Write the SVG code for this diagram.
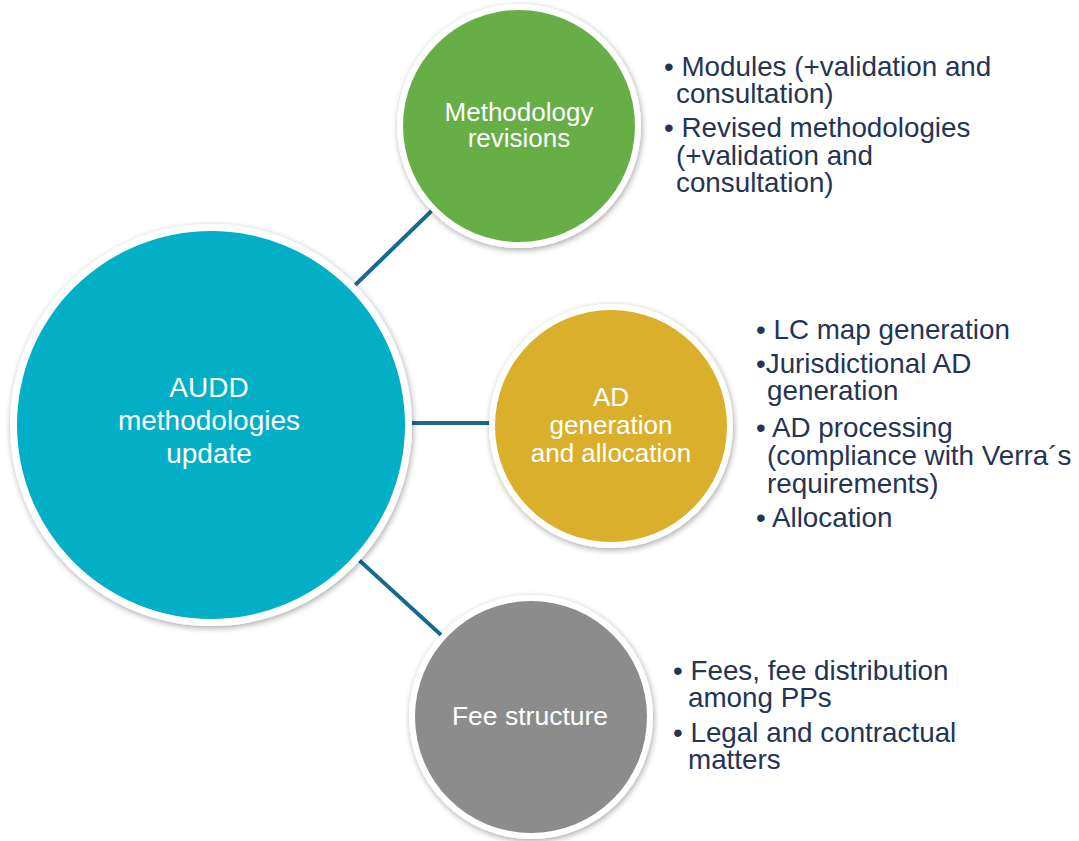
<svg xmlns="http://www.w3.org/2000/svg" width="1079" height="841" viewBox="0 0 1079 841">
<defs>
<filter id="sh" x="-20%" y="-20%" width="140%" height="140%">
<feGaussianBlur in="SourceAlpha" stdDeviation="3"/>
<feOffset dx="1" dy="2" result="b"/>
<feComponentTransfer><feFuncA type="linear" slope="0.35"/></feComponentTransfer>
<feMerge><feMergeNode/><feMergeNode in="SourceGraphic"/></feMerge>
</filter>
<style>
.ring{fill:#ffffff;filter:url(#sh)}
.lbl{font-family:"Liberation Sans",Arial,sans-serif;fill:#ffffff;text-anchor:middle}
.bt{font-family:"Liberation Sans",Arial,sans-serif;fill:#253453;font-size:27.8px}
.con{stroke:#17698F;stroke-width:4;fill:none}
</style>
</defs>
<rect width="1079" height="841" fill="#ffffff"/>
<g id="connectors">
<line class="con" x1="211" y1="425" x2="519" y2="126"/>
<line class="con" x1="211" y1="423" x2="611" y2="423"/>
<line class="con" x1="211" y1="425" x2="531" y2="717"/>
</g>
<g id="node-audd">
<circle class="ring" cx="211" cy="425" r="201"/>
<circle cx="211" cy="425" r="194" fill="#03AFC6"/>
<text class="lbl" font-size="28"><tspan x="209" y="397">AUDD</tspan><tspan x="209" y="430">methodologies</tspan><tspan x="209" y="463">update</tspan></text>
</g>
<g id="node-methodology">
<circle class="ring" cx="519" cy="126" r="122"/>
<circle cx="519" cy="126" r="116" fill="#67AE47"/>
<text class="lbl" font-size="26"><tspan x="519" y="121">Methodology</tspan><tspan x="519" y="147">revisions</tspan></text>
</g>
<g id="node-ad">
<circle class="ring" cx="611" cy="426" r="122"/>
<circle cx="611" cy="426" r="116" fill="#DAAF2B"/>
<text class="lbl" font-size="26"><tspan x="611" y="406">AD</tspan><tspan x="611" y="434">generation</tspan><tspan x="611" y="462">and allocation</tspan></text>
</g>
<g id="node-fee">
<circle class="ring" cx="531" cy="717" r="122"/>
<circle cx="531" cy="717" r="116" fill="#8C8C8C"/>
<text class="lbl" font-size="26.5"><tspan x="530" y="725">Fee structure</tspan></text>
</g>
<g id="text-methodology">
<text class="bt" x="664" y="76">• Modules (+validation and</text>
<text class="bt" x="676" y="103">consultation)</text>
<text class="bt" x="664" y="137">• Revised methodologies</text>
<text class="bt" x="676" y="165">(+validation and</text>
<text class="bt" x="676" y="192">consultation)</text>
</g>
<g id="text-ad">
<text class="bt" x="756" y="339">• LC map generation</text>
<text class="bt" x="756" y="373">•Jurisdictional AD</text>
<text class="bt" x="767" y="400">generation</text>
<text class="bt" x="756" y="437">• AD processing</text>
<text class="bt" x="767" y="465">(compliance with Verra´s</text>
<text class="bt" x="767" y="493">requirements)</text>
<text class="bt" x="756" y="527">• Allocation</text>
</g>
<g id="text-fee">
<text class="bt" x="673" y="680">• Fees, fee distribution</text>
<text class="bt" x="688" y="707">among PPs</text>
<text class="bt" x="673" y="742">• Legal and contractual</text>
<text class="bt" x="688" y="769">matters</text>
</g>
</svg>
